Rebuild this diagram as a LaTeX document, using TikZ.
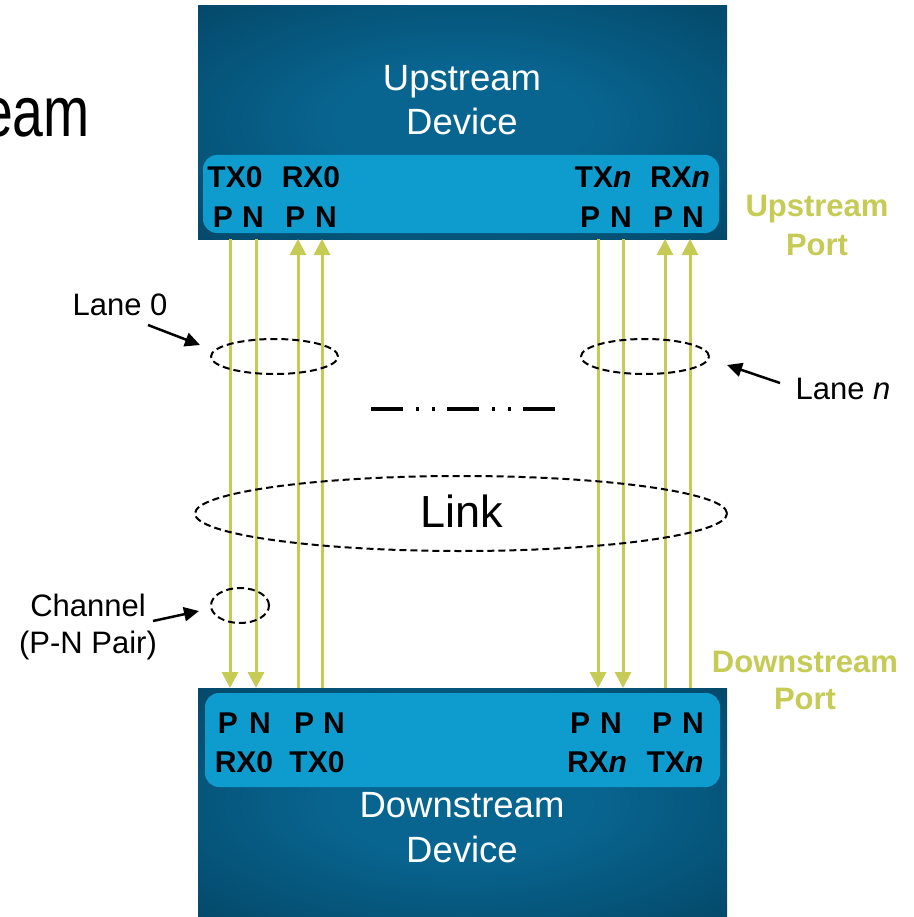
\documentclass[tikz,border=0pt]{standalone}
\usepackage{fontspec}
\setmainfont{Liberation Sans}
\usetikzlibrary{arrows.meta,shapes.geometric}
\definecolor{devdark}{HTML}{023A56}
\definecolor{devlight}{HTML}{086590}
\definecolor{portblue}{HTML}{0E9BCE}
\definecolor{lanegreen}{HTML}{C5CB55}
\pgfdeclareradialshading{devshade}{\pgfpoint{0bp}{0bp}}{color(0bp)=(devlight); color(12bp)=(devlight); color(48bp)=(devdark); color(71bp)=(devdark)}
\newcommand{\fs}[1]{\fontsize{#1}{#1}\selectfont}
\begin{document}
\begin{tikzpicture}[x=1pt,y=-1pt,
  devbox/.style={rectangle, draw=none, shading=devshade, inner sep=0pt, outer sep=0pt, minimum width=529pt},
  portband/.style={rectangle, rounded corners=14pt, fill=portblue, draw=none, inner sep=0pt, minimum width=516pt},
  devtext/.style={anchor=base, inner sep=0pt, text=white, font=\fs{36.5}},
  pintext/.style={anchor=base, inner sep=0pt, text=black, font=\fs{30}\bfseries},
  porttext/.style={anchor=base, inner sep=0pt, text=lanegreen, font=\fs{31}\bfseries},
  notetext/.style={anchor=base, inner sep=0pt, text=black, font=\fs{31}},
  wire/.style={draw=lanegreen, line width=3pt, -{Triangle[length=16pt,width=16pt]}, lanegreen},
  ring/.style={ellipse, draw=black, line width=2pt, dash pattern=on 7pt off 4pt, inner sep=0pt},
  callout/.style={draw=black, line width=2.5pt, -{Triangle[length=15pt,width=14pt]}}
]
\useasboundingbox (0,0) rectangle (913,917);
\fill[white] (0,0) rectangle (913,917);

% clipped title fragment
\node[anchor=base east, inner sep=0pt, font=\fs{71}] (title) at (90,137) {\scalebox{0.78}[1]{eam}};

% devices
\node[devbox, minimum height=233pt] (up) at (462.5,122.5) {};
\node[devbox, minimum height=229pt] (down) at (462.5,802.5) {};
\node[portband, minimum height=78pt] (upport) at (461,194) {};
\node[portband, minimum height=94pt, minimum width=515pt] (downport) at (462.5,740) {};

\node[devtext] (uptxt1) at (462,91) {Upstream};
\node[devtext] (uptxt2) at (462,135) {Device};
\node[devtext] (dntxt1) at (462,817) {Downstream};
\node[devtext] (dntxt2) at (462,862) {Device};

% upstream pin labels
\node[pintext] (utx0) at (235,188) {TX0};
\node[pintext] (urx0) at (311,188) {RX0};
\node[pintext] (utxn) at (603,188) {TX\textit{n}};
\node[pintext] (urxn) at (680,188) {RX\textit{n}};
\node[pintext] (up1) at (223,227) {P};
\node[pintext] (un1) at (253,227) {N};
\node[pintext] (up2) at (295,227) {P};
\node[pintext] (un2) at (326,227) {N};
\node[pintext] (up3) at (590,227) {P};
\node[pintext] (un3) at (621,227) {N};
\node[pintext] (up4) at (663,227) {P};
\node[pintext] (un4) at (693,227) {N};

% downstream pin labels
\node[pintext] (dp1) at (228,733) {P};
\node[pintext] (dn1) at (260,733) {N};
\node[pintext] (dp2) at (304,733) {P};
\node[pintext] (dn2) at (334,733) {N};
\node[pintext] (dp3) at (580,733) {P};
\node[pintext] (dn3) at (611,733) {N};
\node[pintext] (dp4) at (662,733) {P};
\node[pintext] (dn4) at (693,733) {N};
\node[pintext] (drx0) at (244,772) {RX0};
\node[pintext] (dtx0) at (317,772) {TX0};
\node[pintext] (drxn) at (597,772) {RX\textit{n}};
\node[pintext] (dtxn) at (675,772) {TX\textit{n}};

% port labels
\node[porttext] (upl1) at (817,217) {Upstream};
\node[porttext] (upl2) at (817,255) {Port};
\node[porttext] (dpl1) at (805,672) {Downstream};
\node[porttext] (dpl2) at (805,709) {Port};

% pin coordinates
\foreach \n/\x in {a/230,b/256,c/298,d/322,e/598,f/623,g/665,h/690} {
  \coordinate (u\n) at (\x,239);
  \coordinate (d\n) at (\x,688);
}
% TX -> RX (downwards)
\draw[wire] (ua) -- (da);
\draw[wire] (ub) -- (db);
\draw[wire] (ue) -- (de);
\draw[wire] (uf) -- (df);
% downstream TX -> upstream RX (upwards)
\draw[wire] (dc) -- (uc);
\draw[wire] (dd) -- (ud);
\draw[wire] (dg) -- (ug);
\draw[wire] (dh) -- (uh);

% lanes, link, channel
\node[ring, minimum width=127pt, minimum height=35pt] (lane0) at (274.5,356.5) {};
\node[ring, minimum width=128pt, minimum height=35pt] (lanen) at (645,356.5) {};
\node[ring, minimum width=532pt, minimum height=75pt] (link) at (461,513.5) {};
\node[ring, minimum width=58pt, minimum height=35pt] (chan) at (240,605.5) {};
\node[anchor=base, inner sep=0pt, font=\fs{45}] (linktxt) at (462,527) {Link};

% dash-dot ellipsis
\coordinate (dd1) at (371,409);
\coordinate (dd2) at (555,409);
\draw[line width=4pt, dash pattern=on 32pt off 13pt on 3pt off 13pt on 3pt off 12pt] (dd1) -- (dd2);

% annotations
\node[notetext] (lane0txt) at (120,315) {Lane 0};
\node[notetext] (lanentxt) at (843,399) {Lane \textit{n}};
\node[notetext] (chantxt1) at (88,616) {Channel};
\node[notetext] (chantxt2) at (88,653) {(P-N Pair)};

\coordinate (l0tail) at (148,325);
\coordinate (l0tip) at (200,345);
\coordinate (lntail) at (780,383);
\coordinate (lntip) at (727,365);
\coordinate (chtail) at (153,621);
\coordinate (chtip) at (199,611);
\draw[callout] (l0tail) -- (l0tip);
\draw[callout] (lntail) -- (lntip);
\draw[callout] (chtail) -- (chtip);
\end{tikzpicture}
\end{document}
